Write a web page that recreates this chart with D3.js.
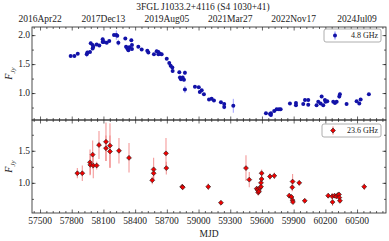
<!DOCTYPE html>
<html lang="en">
<head>
<meta charset="utf-8">
<title>3FGL J1033.2+4116 light curves</title>
<script src="https://cdnjs.cloudflare.com/ajax/libs/d3/7.8.5/d3.min.js"></script>
<style>
  body { margin: 0; background: #fff; }
  svg text { font-family: "Liberation Serif", "DejaVu Serif", serif; fill: #222; }
</style>
</head>
<body>
<script>
// 4.8 GHz light curve
var mjd48  = [57790,57825,57857,57942,57948,57973,57980,57998,57998,58004,58036,58061,58093,58093,58105,58131,58155,58200,58222,58231,58241,58307,58314,58326,58336,58345,58364,58370,58370,58430,58462,58515,58525,58578,58604,58620,58620,58635,58651,58699,58723,58736,58752,58755,58818,58824,58834,58850,58862,58871,58871,58966,59002,59012,59030,59051,59099,59124,59146,59212,59243,59243,59329,59638,59676,59685,59685,59716,59739,59761,59777,59865,59922,59922,59991,60007,60038,60038,60117,60133,60155,60165,60180,60196,60202,60218,60275,60291,60307,60332,60338,60401,60496,60521,60534,60612];
var flux48 = [1.64,1.64,1.68,1.67,1.70,1.71,1.86,1.83,1.77,1.80,1.84,1.82,1.93,1.88,1.88,1.87,1.90,2.00,2.00,1.99,1.87,1.94,1.80,1.77,1.74,1.79,1.91,1.83,1.76,1.80,1.75,1.73,1.70,1.67,1.72,1.71,1.67,1.68,1.67,1.59,1.52,1.47,1.44,1.38,1.36,1.27,1.24,1.27,1.23,1.35,1.06,1.11,1.10,1.02,1.05,0.98,0.89,0.90,0.87,0.84,0.81,0.76,0.78,0.65,0.64,0.65,0.62,0.69,0.72,0.72,0.72,0.82,0.83,0.79,0.81,0.88,0.88,0.80,0.79,0.85,0.82,0.94,0.79,0.88,0.85,0.86,0.85,0.83,0.85,0.94,0.98,0.81,0.86,0.82,0.89,0.98];
var err48  = [0.02,0.02,0.02,0.05,0.03,0.03,0.03,0.03,0.03,0.04,0.02,0.02,0.03,0.03,0.02,0.02,0.02,0.03,0.08,0.03,0.05,0.02,0.03,0.03,0.03,0.03,0.03,0.03,0.03,0.02,0.02,0.02,0.03,0.02,0.03,0.03,0.03,0.03,0.02,0.02,0.03,0.03,0.03,0.03,0.03,0.03,0.03,0.03,0.03,0.04,0.06,0.02,0.02,0.02,0.02,0.02,0.02,0.02,0.02,0.02,0.03,0.04,0.12,0.02,0.02,0.03,0.03,0.02,0.02,0.02,0.02,0.02,0.02,0.02,0.02,0.03,0.02,0.02,0.02,0.02,0.02,0.03,0.02,0.02,0.02,0.02,0.02,0.02,0.02,0.04,0.04,0.02,0.02,0.02,0.02,0.02];

// 23.6 GHz light curve
var mjd23  = [57853,57900,57973,57976,57998,58004,58036,58058,58124,58124,58162,58162,58247,58342,58562,58575,58575,58692,58695,58846,58850,59092,59212,59449,59480,59550,59559,59565,59572,59581,59591,59591,59597,59597,59676,59717,59858,59880,59887,59890,59890,59893,59953,60005,60227,60265,60268,60287,60303,60319,60329,60332,60338,60568];
var flux23 = [1.15,1.15,1.32,1.28,1.44,1.27,1.27,1.59,1.64,1.54,1.58,1.49,1.50,1.39,1.04,1.21,1.15,1.46,1.23,0.94,0.93,0.94,0.69,1.23,1.05,0.91,0.89,0.85,0.87,0.92,0.94,1.00,1.06,1.15,1.10,1.11,0.80,0.78,0.93,1.02,0.73,0.70,1.00,0.72,0.80,0.79,0.70,0.80,0.79,0.81,0.82,0.77,0.72,0.94];
var err23  = [0.08,0.12,0.20,0.15,0.22,0.20,0.06,0.22,0.30,0.20,0.35,0.25,0.20,0.23,0.06,0.18,0.10,0.24,0.10,0.04,0.03,0.05,0.03,0.20,0.12,0.04,0.05,0.05,0.05,0.04,0.04,0.05,0.05,0.06,0.05,0.05,0.04,0.04,0.06,0.12,0.04,0.03,0.04,0.03,0.04,0.05,0.06,0.03,0.03,0.03,0.03,0.03,0.03,0.05];

// axis labels
var mjdTicks   = [57500,57800,58100,58400,58700,59000,59300,59600,59900,60200,60500];
var dateTicks  = [57500,58100,58700,59300,59900,60500];
var dateLabels = ["2016Apr22","2017Dec13","2019Aug05","2021Mar27","2022Nov17","2024Jul09"];
var fluxTicks  = [1.0,1.5,2.0];
var title = "3FGL J1033.2+4116 (S4 1030+41)";

var w = 389, h = 241;
var left = 32, right = 386;
var top1 = 27, mid = 120, bot2 = 213;

var svg = d3.select("body").append("svg").attr("width", w).attr("height", h);

var x = d3.scaleLinear().domain([57424, 60774]).range([left, right]);
var y1 = d3.scaleLinear().domain([0.535, 2.14]).range([mid, top1]);
var y2 = d3.scaleLinear().domain([0.53, 1.98]).range([bot2, mid]);

var minorX = d3.range(57440, 60780, 60).filter(function(v) { return mjdTicks.indexOf(v) < 0; });

function panel(y, yTop, yBot) {
  var g = svg.append("g");
  // minor ticks (inward, all sides)
  var minorY = d3.range(0.5, 2.01, 0.25).filter(function(v) { return v > y.domain()[0] && v < y.domain()[1]; });
  g.append("g").attr("transform", "translate(0," + yBot + ")")
    .call(d3.axisTop(x).tickValues(minorX).tickSize(2).tickFormat(""));
  g.append("g").attr("transform", "translate(0," + yTop + ")")
    .call(d3.axisBottom(x).tickValues(minorX).tickSize(2).tickFormat(""));
  g.append("g").attr("transform", "translate(" + left + ",0)")
    .call(d3.axisRight(y).tickValues(minorY).tickSize(2).tickFormat(""));
  g.append("g").attr("transform", "translate(" + right + ",0)")
    .call(d3.axisLeft(y).tickValues(minorY).tickSize(2).tickFormat(""));
  // major ticks
  g.append("g").attr("transform", "translate(0," + yBot + ")")
    .call(d3.axisTop(x).tickValues(mjdTicks).tickSize(3.5).tickFormat(""));
  g.append("g").attr("transform", "translate(0," + yTop + ")")
    .call(d3.axisBottom(x).tickValues(mjdTicks).tickSize(3.5).tickFormat(""));
  var majY = fluxTicks.filter(function(v) { return v > y.domain()[0] && v < y.domain()[1]; });
  g.append("g").attr("transform", "translate(" + left + ",0)")
    .call(d3.axisRight(y).tickValues(majY).tickSize(3.5).tickFormat(""));
  g.append("g").attr("transform", "translate(" + right + ",0)")
    .call(d3.axisLeft(y).tickValues(majY).tickSize(3.5).tickFormat(""));
  g.selectAll(".domain").remove();
  g.selectAll(".tick line").attr("stroke", "#222").attr("stroke-width", 0.7);
  // y tick labels
  g.selectAll(".ylab").data(majY).enter().append("text")
    .attr("x", left - 2).attr("y", function(d) { return y(d) + 3.3; })
    .attr("text-anchor", "end").attr("font-size", "9.5px")
    .text(function(d) { return d.toFixed(1); });
  // frame
  g.append("rect").attr("x", left).attr("y", yTop).attr("width", right - left).attr("height", yBot - yTop)
    .attr("fill", "none").attr("stroke", "#222").attr("stroke-width", 0.8);
  // y label
  var yl = g.append("text").attr("transform", "translate(12," + ((yTop + yBot) / 2) + ") rotate(-90)")
    .attr("text-anchor", "middle").attr("font-size", "10px").attr("font-style", "italic");
  yl.append("tspan").text("F");
  yl.append("tspan").attr("font-size", "7px").attr("dy", 2.5).text("Jy");
}

panel(y1, top1, mid);
panel(y2, mid, bot2);

// 4.8 GHz points
var d48 = mjd48.map(function(m, i) { return { m: m, f: flux48[i], e: err48[i] }; });
var p1 = svg.append("g");
p1.selectAll("line").data(d48).enter().append("line")
  .attr("x1", function(d) { return x(d.m); }).attr("x2", function(d) { return x(d.m); })
  .attr("y1", function(d) { return y1(d.f - d.e); }).attr("y2", function(d) { return y1(d.f + d.e); })
  .attr("stroke", "#7d7dff").attr("stroke-opacity", 0.75).attr("stroke-width", 1);
p1.selectAll("circle").data(d48).enter().append("circle")
  .attr("cx", function(d) { return x(d.m); }).attr("cy", function(d) { return y1(d.f); })
  .attr("r", 2).attr("fill", "#1212a8");

// 23.6 GHz points
var d23 = mjd23.map(function(m, i) { return { m: m, f: flux23[i], e: err23[i] }; });
var p2 = svg.append("g");
p2.selectAll("line").data(d23).enter().append("line")
  .attr("x1", function(d) { return x(d.m); }).attr("x2", function(d) { return x(d.m); })
  .attr("y1", function(d) { return y2(d.f - d.e); }).attr("y2", function(d) { return y2(d.f + d.e); })
  .attr("stroke", "#f07878").attr("stroke-opacity", 0.75).attr("stroke-width", 1.1);
var diamond = d3.symbol().type(d3.symbolSquare).size(12);
p2.selectAll("path").data(d23).enter().append("path")
  .attr("d", diamond)
  .attr("transform", function(d) { return "translate(" + x(d.m) + "," + y2(d.f) + ") rotate(45)"; })
  .attr("fill", "#f00000").attr("stroke", "#222").attr("stroke-width", 0.6);

// bottom MJD labels
svg.selectAll(".xlab").data(mjdTicks).enter().append("text")
  .attr("x", function(d) { return x(d); }).attr("y", bot2 + 11)
  .attr("text-anchor", "middle").attr("font-size", "9.5px").text(function(d) { return d; });
svg.append("text").attr("x", (left + right) / 2).attr("y", 237)
  .attr("text-anchor", "middle").attr("font-size", "9.5px").text("MJD");

// top date labels
svg.selectAll(".dlab").data(dateTicks).enter().append("text")
  .attr("x", function(d) { return x(d); }).attr("y", top1 - 5)
  .attr("text-anchor", "middle").attr("font-size", "9.5px").text(function(d, i) { return dateLabels[i]; });

// title
svg.append("text").attr("x", 203).attr("y", 10).attr("text-anchor", "middle")
  .attr("font-size", "9.5px").text(title);

// legends
function legend(x0, y0, wd, ht, label, kind) {
  var g = svg.append("g");
  g.append("rect").attr("x", x0).attr("y", y0).attr("width", wd).attr("height", ht).attr("rx", 2)
    .attr("fill", "#fff").attr("stroke", "#999").attr("stroke-width", 0.8);
  var mx = x0 + 11, my = y0 + ht / 2;
  if (kind === "blue") {
    g.append("line").attr("x1", mx).attr("x2", mx).attr("y1", my - 4).attr("y2", my + 4)
      .attr("stroke", "#7d7dff").attr("stroke-width", 1);
    g.append("circle").attr("cx", mx).attr("cy", my).attr("r", 2).attr("fill", "#1212a8");
  } else {
    g.append("line").attr("x1", mx).attr("x2", mx).attr("y1", my - 4).attr("y2", my + 4)
      .attr("stroke", "#f07878").attr("stroke-width", 1.1);
    g.append("path").attr("d", diamond).attr("transform", "translate(" + mx + "," + my + ") rotate(45)")
      .attr("fill", "#f00000").attr("stroke", "#222").attr("stroke-width", 0.6);
  }
  g.append("text").attr("x", x0 + wd - 3).attr("y", my + 2.8).attr("text-anchor", "end")
    .attr("font-size", "8px").text(label);
}
legend(324, 29, 57, 13, "4.8 GHz", "blue");
legend(322, 124, 59, 13, "23.6 GHz", "red");
</script>
</body>
</html>
